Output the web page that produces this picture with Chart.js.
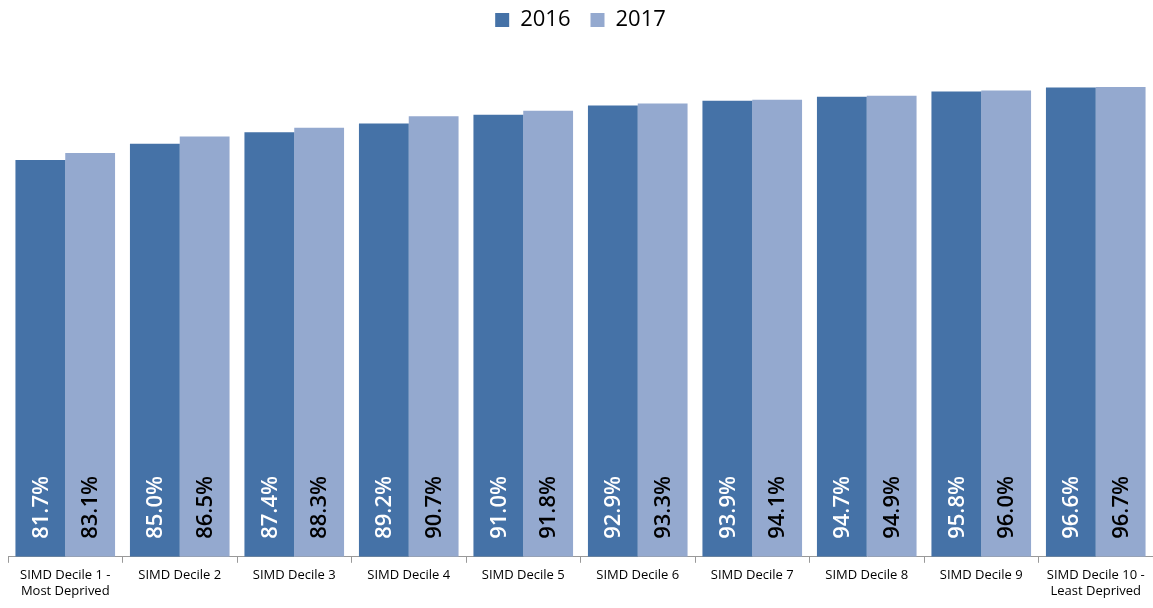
<!DOCTYPE html>
<html>
<head>
<meta charset="utf-8">
<script src="https://cdn.jsdelivr.net/npm/chart.js@4"></script>
<style>
  html, body { margin: 0; padding: 0; background: #fff; }
  #wrap { width: 1153px; height: 608px; }
</style>
</head>
<body>
<div id="wrap"><canvas id="deciles"></canvas></div>
<script>
const categories = [
  ['SIMD Decile 1 -', 'Most Deprived'],
  'SIMD Decile 2', 'SIMD Decile 3', 'SIMD Decile 4', 'SIMD Decile 5',
  'SIMD Decile 6', 'SIMD Decile 7', 'SIMD Decile 8', 'SIMD Decile 9',
  ['SIMD Decile 10 -', 'Least Deprived']
];
const values2016 = [81.7, 85.0, 87.4, 89.2, 91.0, 92.9, 93.9, 94.7, 95.8, 96.6];
const values2017 = [83.1, 86.5, 88.3, 90.7, 91.8, 93.3, 94.1, 94.9, 96.0, 96.7];

// extra room under the legend before the bars start
const legendGap = {
  id: 'legendGap',
  beforeInit(chart) {
    const fit = chart.legend.fit;
    chart.legend.fit = function () {
      fit.bind(chart.legend)();
      this.height += 30;
    };
  }
};

// vertical value labels sitting at the foot of each bar
const barLabels = {
  id: 'barLabels',
  afterDatasetsDraw(chart) {
    const ctx = chart.ctx;
    const bottom = chart.scales.y.bottom;
    chart.data.datasets.forEach((ds, i) => {
      const meta = chart.getDatasetMeta(i);
      meta.data.forEach((bar, j) => {
        ctx.save();
        ctx.translate(bar.x, bottom - 18);
        ctx.rotate(-Math.PI / 2);
        ctx.font = '600 22px "Open Sans", sans-serif';
        ctx.fillStyle = ds.labelColor;
        ctx.textAlign = 'left';
        ctx.textBaseline = 'middle';
        ctx.fillText(ds.data[j].toFixed(1) + '%', 0, 1);
        ctx.restore();
      });
    });
  }
};

new Chart(document.getElementById('deciles'), {
  type: 'bar',
  data: {
    labels: categories,
    datasets: [
      { label: '2016', data: values2016, backgroundColor: '#4572A7', labelColor: '#ffffff' },
      { label: '2017', data: values2017, backgroundColor: '#94A9CF', labelColor: '#000000' }
    ]
  },
  options: {
    responsive: true,
    maintainAspectRatio: false,
    animation: false,
    categoryPercentage: 0.87,
    barPercentage: 1.0,
    layout: { padding: { left: 8, right: 0, top: -11, bottom: 4 } },
    plugins: {
      legend: {
        position: 'top',
        labels: {
          boxWidth: 14,
          boxHeight: 14,
          padding: 20,
          color: '#000',
          font: { family: '"Open Sans", sans-serif', size: 22 }
        }
      },
      tooltip: { enabled: false }
    },
    scales: {
      x: {
        grid: {
          display: true,
          offset: true,
          drawOnChartArea: false,
          tickLength: 6,
          color: '#999'
        },
        border: { color: '#999', width: 1 },
        ticks: {
          color: '#000',
          maxRotation: 0,
          autoSkip: false,
          font: { family: '"Open Sans", sans-serif', size: 13 },
          padding: 5
        }
      },
      y: {
        display: false,
        min: 0,
        max: 100
      }
    }
  },
  plugins: [legendGap, barLabels]
});
</script>
</body>
</html>
